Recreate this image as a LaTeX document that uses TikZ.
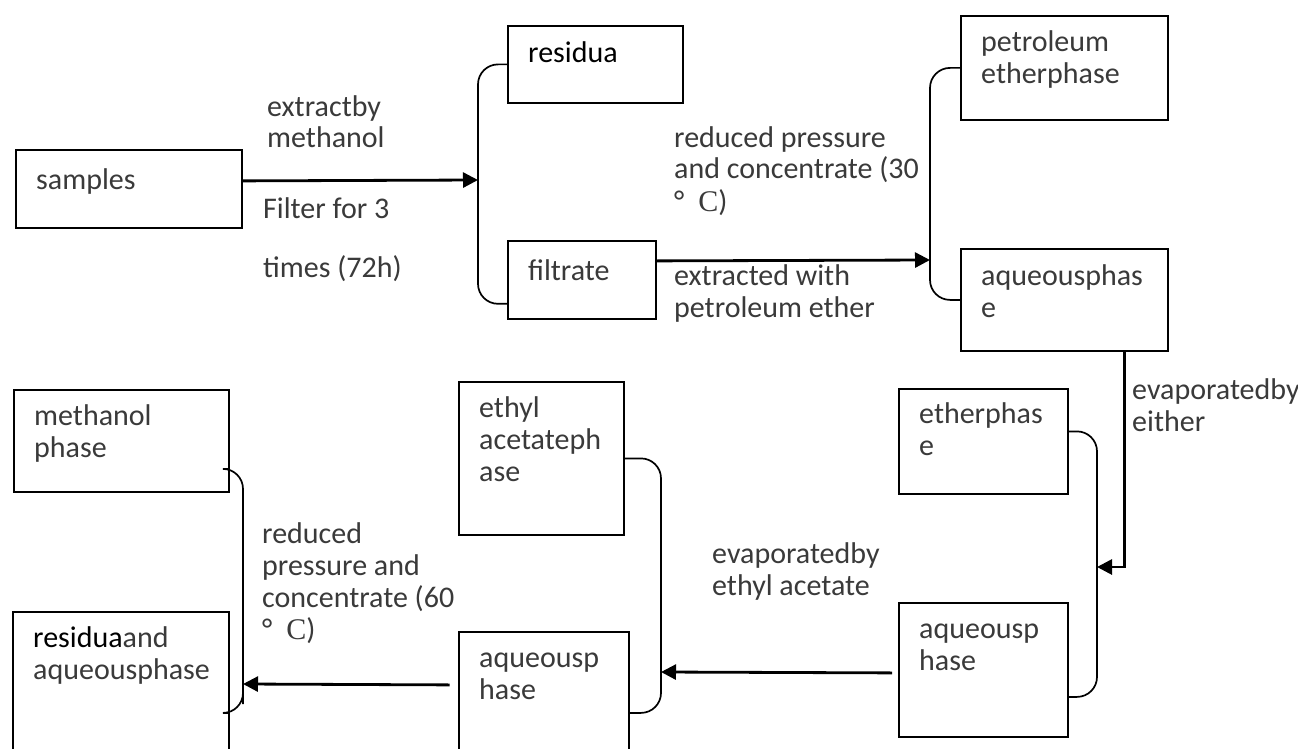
\documentclass[tikz,border=0pt]{standalone}
\usepackage{fontspec}
\setmainfont{Carlito}
\newfontfamily\cfont{Liberation Serif}
\usetikzlibrary{arrows.meta}
\definecolor{tgray}{HTML}{3A3A3A}
\newcommand\mydegc{°\hspace{14pt}{\cfont C})}
\newcommand\mlines[1]{\begin{tabular}[t]{@{}l@{}}#1\end{tabular}}
\tikzset{
  boxn/.style={draw, line width=1.8pt, inner sep=0pt, anchor=north west},
  txt/.style={font=\fontsize{30}{32}\selectfont, text=tgray, inner sep=0pt, anchor=base west},
  arr/.style={line width=2.8pt, -{Triangle[length=15pt,width=15pt]}},
  brk/.style={line width=1.7pt, rounded corners=20pt}
}
\begin{document}
\begin{tikzpicture}[x=1pt,y=-1pt]
\useasboundingbox (0,0) rectangle (1298,749);
\clip (0,0) rectangle (1298,749);
\fill[white] (0,0) rectangle (1298,749);
% boxes
\node[boxn, minimum width=226pt, minimum height=78pt] (samples) at (15,149) {};
\node[boxn, minimum width=175pt, minimum height=77pt] (residua) at (507,25) {};
\node[boxn, minimum width=148pt, minimum height=78pt] (filtrate) at (507,240) {};
\node[boxn, minimum width=207pt, minimum height=104pt] (petro) at (960,15) {};
\node[boxn, minimum width=207pt, minimum height=102pt] (aq1) at (960,248) {};
\node[boxn, minimum width=169pt, minimum height=105pt] (ether) at (898,388) {};
\node[boxn, minimum width=169pt, minimum height=134pt] (aq2) at (898,602) {};
\node[boxn, minimum width=165pt, minimum height=153pt] (ethyl) at (458,381) {};
\node[boxn, minimum width=170pt, minimum height=140pt] (aq3) at (458,631) {};
\node[boxn, minimum width=215pt, minimum height=102pt] (methanol) at (13,389) {};
\node[boxn, minimum width=216pt, minimum height=150pt] (resaq) at (12,611) {};
% box texts
\node[txt] (samplesT) at (36,189) {samples};
\node[txt, text=black] (residuaT) at (528,63) {residua};
\node[txt] (filtrateT) at (528,280) {filtrate};
\node[txt] (petroT) at (981,52) {\mlines{petroleum\\etherphase}};
\node[txt] (aq1T) at (981,285) {\mlines{aqueousphas\\e}};
\node[txt] (etherT) at (919,423) {\mlines{etherphas\\e}};
\node[txt] (aq2T) at (919,638) {\mlines{aqueousp\\hase}};
\node[txt] (ethylT) at (479,417) {\mlines{ethyl\\acetateph\\ase}};
\node[txt] (aq3T) at (479,667) {\mlines{aqueousp\\hase}};
\node[txt] (methanolT) at (34,425) {\mlines{methanol\\phase}};
\node[txt] (resaqT) at (33,647) {\mlines{{\color{black}residua}and\\aqueousphase}};
% connectors
\coordinate (br1) at (478,180);
\draw[arr] ([yshift=8pt]samples.east) -- (br1);
\draw[brk] (residua.west) -| (br1) |- ([yshift=16pt]filtrate.south west);
\coordinate (br2) at (930,260);
\draw[arr] ([yshift=19pt]filtrate.east) -- (br2);
\draw[brk] (petro.west) -| (br2) |- (aq1.west);
\coordinate (br3) at (1097,567);
\draw[arr] ([xshift=60pt]aq1.south) |- (br3);
\draw[brk] ([yshift=10pt]ether.east) -| (br3) |- ([yshift=-27pt]aq2.east);
\coordinate (br4) at (661,672);
\draw[arr] ([xshift=-6pt,yshift=-3pt]aq2.west) -- (br4);
\draw[brk] (ethyl.east) -| (br4) |- ([yshift=-11pt]aq3.east);
\coordinate (br5) at (243,684);
\draw[arr] ([xshift=-8.5pt,yshift=17pt]aq3.west) -- (br5);
\draw[brk] ([yshift=-28pt]methanol.east) -| (br5) |- ([yshift=-26pt]resaq.east);
% labels
\node[txt] (l1) at (267,117) {\mlines{extractby\\[-1pt]methanol}};
\node[txt] (l2) at (263,218) {\mlines{Filter for 3\\[27pt]times (72h)}};
\node[txt] (l3) at (674,147) {\mlines{reduced pressure\\and concentrate (30\\\mydegc}};
\node[txt] (l4) at (674,285) {\mlines{extracted with\\petroleum ether}};
\node[txt] (l5) at (1132,399) {\mlines{evaporatedby\\either}};
\node[txt] (l6) at (712,563) {\mlines{evaporatedby\\ethyl acetate}};
\node[txt] (l7) at (262,543) {\mlines{reduced\\pressure and\\concentrate (60\\\mydegc}};
\end{tikzpicture}
\end{document}
